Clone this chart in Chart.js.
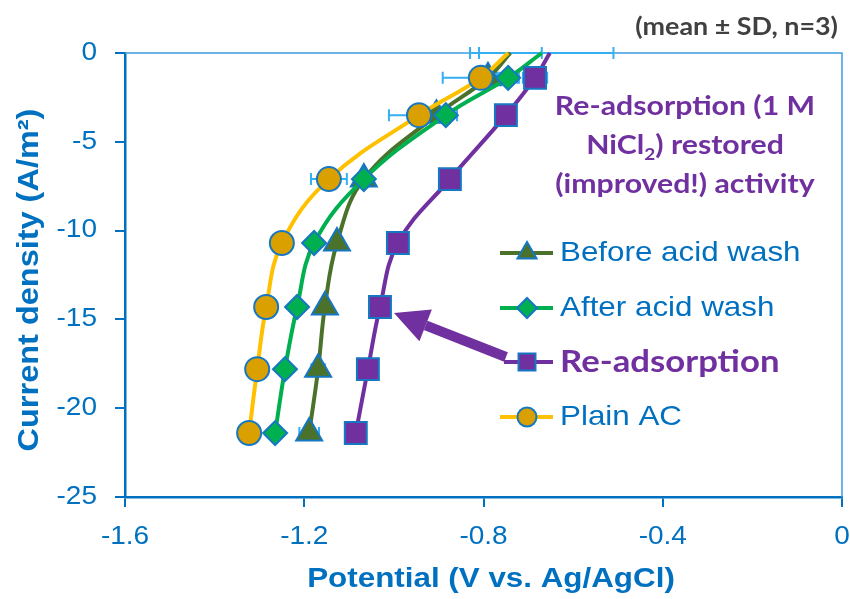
<!DOCTYPE html>
<html>
<head>
<meta charset="utf-8">
<script src="https://cdn.jsdelivr.net/npm/chart.js@4.4.1/dist/chart.umd.min.js"></script>
<style>
  html, body { margin: 0; padding: 0; background: #fff; }
  #box { width: 850px; height: 599px; position: relative; }
</style>
</head>
<body>
<div id="box"><canvas id="chart"></canvas></div>
<script>
// data: current density rows shared by all series
const currentDensity = [0, -1.4, -3.5, -7.1, -10.7, -14.3, -17.8, -21.4];

const beforeWash = [-0.74, -0.79, -0.905, -1.067, -1.127, -1.154, -1.169, -1.189];
const afterWash = [-0.67, -0.745, -0.884, -1.067, -1.178, -1.216, -1.243, -1.265];
const reAdsorption = [-0.652, -0.685, -0.750, -0.875, -0.991, -1.031, -1.058, -1.085];
const plainAC = [-0.745, -0.806, -0.944, -1.145, -1.250, -1.285, -1.305, -1.323];

// standard deviations (V)
const beforeSD = [0.07, 0.02, 0.02, 0.01, 0.012, 0.012, 0.015, 0.022];
const afterSD = [0.16, 0.02, 0.025, 0.01, 0.01, 0.01, 0.01, 0.01];
const reSD = [0, 0.027, 0.01, 0.01, 0.01, 0.01, 0.01, 0.01];
const plainSD = [0, 0.085, 0.067, 0.04, 0.01, 0.01, 0.01, 0.01];

const seriesLabels = ["Before acid wash", "After acid wash", "Re-adsorption", "Plain AC"];
const xTicks = [-1.6, -1.2, -0.8, -0.4, 0];
const xTickLabels = ["-1.6", "-1.2", "-0.8", "-0.4", "0"];
const yTicks = [0, -5, -10, -15, -20, -25];
const yTickLabels = ["0", "-5", "-10", "-15", "-20", "-25"];

const BLUE = "#0070C0";
const MARKER_EDGE = "#1677C2";
const ERR = "#35AEF2";
const PURPLE = "#7030A0";
const SANS = "'Liberation Sans', Arial, sans-serif";
const CALIBRI = "Lato, 'Open Sans', sans-serif";
const SX = 1.12; // the original text is a bit wide

Chart.defaults.font.family = SANS;

function points(xs) {
  return xs.map((v, i) => ({ x: v, y: currentDensity[i] }));
}
function radii(r) {
  return currentDensity.map(c => (c === 0 ? 0 : r));
}

const series = [
  { label: seriesLabels[0], v: beforeWash, sd: beforeSD, line: "#4B722A", fill: "#4B722A", style: "triangle", r: 15, lr: 11, order: 3 },
  { label: seriesLabels[1], v: afterWash, sd: afterSD, line: "#00B050", fill: "#00B050", style: "rectRot", r: 12, lr: 10, order: 2 },
  { label: seriesLabels[2], v: reAdsorption, sd: reSD, line: PURPLE, fill: PURPLE, style: "rect", r: 15.5, lr: 12, order: 1 },
  { label: seriesLabels[3], v: plainAC, sd: plainSD, line: "#FFC000", fill: "#D9A000", style: "circle", r: 12, lr: 9.5, order: 0 },
];

// text stretched horizontally
function wideText(ctx, txt, x, y, align) {
  ctx.save();
  ctx.translate(x, y);
  ctx.scale(SX, 1);
  ctx.textAlign = align;
  ctx.fillText(txt, 0, 0);
  ctx.restore();
}

function drawMarker(ctx, s, r, x, y) {
  ctx.fillStyle = s.fill;
  ctx.strokeStyle = MARKER_EDGE;
  ctx.lineWidth = 2;
  Chart.helpers.drawPoint(ctx, { pointStyle: s.style, radius: r, rotation: 0, borderWidth: 2 }, x, y);
}

const extras = {
  id: "extras",
  beforeDatasetsDraw(chart) {
    const { ctx, chartArea: a, scales: { x, y } } = chart;
    ctx.save();
    // top and right frame of the plot area
    ctx.strokeStyle = "#3C9DE0";
    ctx.lineWidth = 1.5;
    ctx.beginPath();
    ctx.moveTo(a.left, a.top);
    ctx.lineTo(a.right, a.top);
    ctx.lineTo(a.right, a.bottom);
    ctx.stroke();
    // horizontal error bars (under markers)
    ctx.strokeStyle = ERR;
    ctx.lineWidth = 2;
    series.forEach(s => s.v.forEach((v, i) => {
      if (!s.sd[i]) return;
      const py = y.getPixelForValue(currentDensity[i]);
      const x1 = x.getPixelForValue(v - s.sd[i]);
      const x2 = x.getPixelForValue(v + s.sd[i]);
      ctx.beginPath();
      ctx.moveTo(x1, py); ctx.lineTo(x2, py);
      ctx.moveTo(x1, py - 6); ctx.lineTo(x1, py + 6);
      ctx.moveTo(x2, py - 6); ctx.lineTo(x2, py + 6);
      ctx.stroke();
    }));
    ctx.restore();
  },
  afterDraw(chart) {
    const { ctx, scales: { x, y } } = chart;
    ctx.save();
    ctx.textBaseline = "middle";

    // tick labels
    ctx.fillStyle = BLUE;
    ctx.font = "25px " + SANS;
    xTicks.forEach((v, i) => wideText(ctx, xTickLabels[i], x.getPixelForValue(v), 537, "center"));
    yTicks.forEach((v, i) => wideText(ctx, yTickLabels[i], 97, y.getPixelForValue(v), "right"));

    // axis titles
    ctx.font = "bold 28px " + SANS;
    wideText(ctx, "Potential (V vs. Ag/AgCl)", 491, 579, "center");
    ctx.save();
    ctx.translate(30, 280);
    ctx.rotate(-Math.PI / 2);
    ctx.font = "bold 29px " + SANS;
    wideText(ctx, "Current density (A/m²)", 0, 0, "center");
    ctx.restore();

    // mean ± SD note
    ctx.fillStyle = "#404040";
    ctx.font = "bold 24px " + CALIBRI;
    wideText(ctx, "(mean ± SD, n=3)", 838, 27, "right");

    // purple annotation
    ctx.fillStyle = PURPLE;
    ctx.font = "bold 27px " + CALIBRI;
    wideText(ctx, "Re-adsorption (1 M", 685, 106, "center");
    wideText(ctx, "(improved!) activity", 685, 184, "center");
    const partA = "NiCl", partB = ") restored";
    const wA = ctx.measureText(partA).width * SX, wB = ctx.measureText(partB).width * SX;
    ctx.font = "bold 17px " + CALIBRI;
    const wS = ctx.measureText("2").width * SX;
    const cx = 685 - (wA + wS + wB) / 2;
    ctx.font = "bold 27px " + CALIBRI;
    wideText(ctx, partA, cx, 145, "left");
    ctx.font = "bold 17px " + CALIBRI;
    wideText(ctx, "2", cx + wA, 155, "left");
    ctx.font = "bold 27px " + CALIBRI;
    wideText(ctx, partB, cx + wA + wS, 145, "left");

    // arrow from legend entry to the re-adsorption curve
    ctx.strokeStyle = PURPLE;
    ctx.fillStyle = PURPLE;
    ctx.lineWidth = 10;
    ctx.lineCap = "butt";
    const tip = { x: 394, y: 313 }, tail = { x: 506, y: 357 };
    const ang = Math.atan2(tail.y - tip.y, tail.x - tip.x);
    const headLen = 34, headW = 17;
    const bx = tip.x + Math.cos(ang) * headLen, by = tip.y + Math.sin(ang) * headLen;
    ctx.beginPath();
    ctx.moveTo(tail.x, tail.y);
    ctx.lineTo(bx, by);
    ctx.stroke();
    ctx.beginPath();
    ctx.moveTo(tip.x, tip.y);
    ctx.lineTo(bx - Math.sin(ang) * headW, by + Math.cos(ang) * headW);
    ctx.lineTo(bx + Math.sin(ang) * headW, by - Math.cos(ang) * headW);
    ctx.closePath();
    ctx.fill();

    // legend
    const rows = [253, 308, 362, 417];
    series.forEach((s, i) => {
      const ly = rows[i];
      ctx.strokeStyle = s.line;
      ctx.lineWidth = 4;
      ctx.beginPath();
      ctx.moveTo(i === 2 ? 504 : 500, ly);
      ctx.lineTo(553, ly);
      ctx.stroke();
      drawMarker(ctx, s, s.lr, 527, ly);
      if (i === 2) {
        ctx.fillStyle = PURPLE;
        ctx.font = "bold 31px " + CALIBRI;
      } else {
        ctx.fillStyle = BLUE;
        ctx.font = "28px " + SANS;
      }
      wideText(ctx, s.label, 560, ly, "left");
    });
    ctx.restore();
  },
};

new Chart(document.getElementById("chart"), {
  type: "line",
  data: {
    datasets: series.map(s => ({
      label: s.label,
      data: points(s.v),
      order: s.order,
      borderColor: s.line,
      borderWidth: 4,
      tension: 0.4,
      pointStyle: s.style,
      pointRadius: radii(s.r),
      pointBackgroundColor: s.fill,
      pointBorderColor: MARKER_EDGE,
      pointBorderWidth: 2,
      fill: false,
      clip: false,
    })),
  },
  options: {
    responsive: true,
    maintainAspectRatio: false,
    animation: false,
    events: [],
    layout: { autoPadding: false, padding: { left: 0, top: 53, right: 8, bottom: 0 } },
    plugins: {
      legend: { display: false },
      tooltip: { enabled: false },
    },
    scales: {
      x: {
        type: "linear",
        min: -1.6,
        max: 0,
        afterBuildTicks: scale => { scale.ticks = xTicks.map(v => ({ value: v })); },
        afterFit: scale => { scale.height = 102; },
        border: { color: BLUE, width: 2.5 },
        grid: { drawOnChartArea: false, drawTicks: true, tickLength: 10, color: BLUE, lineWidth: 2 },
        ticks: { display: false },
      },
      y: {
        type: "linear",
        min: -25,
        max: 0,
        afterBuildTicks: scale => { scale.ticks = yTicks.map(v => ({ value: v })); },
        afterFit: scale => { scale.width = 125; },
        border: { color: BLUE, width: 2.5 },
        grid: { drawOnChartArea: false, drawTicks: true, tickLength: 10, color: BLUE, lineWidth: 2 },
        ticks: { display: false },
      },
    },
  },
  plugins: [extras],
});
</script>
</body>
</html>
